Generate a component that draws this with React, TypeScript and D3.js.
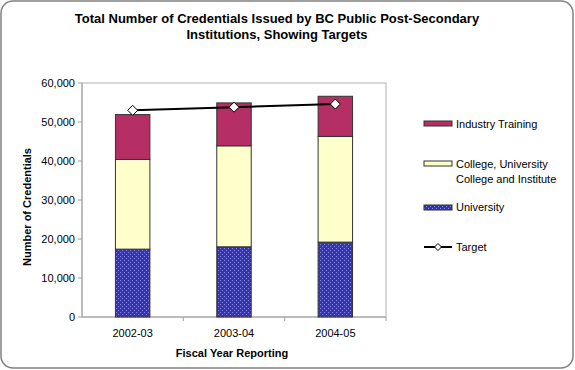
import React from "react";
import * as d3 from "d3";

const categories = ["2002-03", "2003-04", "2004-05"];
const university = [17400, 18000, 19200];
const college = [23000, 25900, 27100];
const industry = [11500, 11000, 10300];
const target = [53000, 53800, 54600];
const yTicks = [0, 10000, 20000, 30000, 40000, 50000, 60000];

const W = 575, H = 370;
const M = { left: 82, top: 83, right: 386, bottom: 317 };

export default function App() {
  const x = d3.scaleBand<string>().domain(categories).range([M.left, M.right]).paddingInner(0.66).paddingOuter(0.33);
  const y = d3.scaleLinear().domain([0, 60000]).range([M.bottom, M.top]);
  const fmt = d3.format(",");
  const series = [
    { key: "University", values: university, fill: "url(#dots)" },
    { key: "College", values: college, fill: "#FFFFCC" },
    { key: "Industry", values: industry, fill: "#B52F64" },
  ];
  const stacks = categories.map((c, i) => {
    let base = 0;
    return series.map((s) => {
      const y0 = base;
      base += s.values[i];
      return { cat: c, y0, y1: base, fill: s.fill, key: s.key };
    });
  });
  const line = d3.line<number>().x((_, i) => (x(categories[i]) as number) + x.bandwidth() / 2).y((d) => y(d));
  const step = x.step();
  const font = "'Liberation Sans', Arial, sans-serif";
  const diamond = (cx: number, cy: number, r = 5) => `M${cx},${cy - r}L${cx + r},${cy}L${cx},${cy + r}L${cx - r},${cy}Z`;

  return (
    <svg width={W} height={H} style={{ position: "absolute", left: 0, top: 0 }} fontFamily={font}>
      <defs>
        <pattern id="dots" width="4" height="4" patternUnits="userSpaceOnUse">
          <rect width="4" height="4" fill="#3434B4" />
          <rect x="0" y="0" width="1" height="1" fill="#8A8AE0" />
          <rect x="2" y="2" width="1" height="1" fill="#8A8AE0" />
        </pattern>
      </defs>
      <rect x={1} y={1} width={W - 3} height={H - 3} rx={12} fill="#fff" stroke="#808080" strokeWidth={1.5} />
      <text x={277} y={23} textAnchor="middle" fontSize={13} fontWeight="bold">Total Number of Credentials Issued by BC Public Post-Secondary</text>
      <text x={277} y={39} textAnchor="middle" fontSize={13} fontWeight="bold">Institutions, Showing Targets</text>

      <rect x={M.left} y={M.top} width={M.right - M.left} height={M.bottom - M.top} fill="#fff" stroke="#B0B0B0" strokeWidth={1} />
      {yTicks.map((t) => (
        <g key={t}>
          <line x1={M.left - 4} x2={M.left} y1={y(t)} y2={y(t)} stroke="#A0A0A0" />
          <text x={75} y={y(t) + 4} textAnchor="end" fontSize={11}>{fmt(t)}</text>
        </g>
      ))}
      {categories.map((c, i) => (
        <g key={c}>
          <line x1={M.left + step * (i + 1)} x2={M.left + step * (i + 1)} y1={M.bottom} y2={M.bottom + 4} stroke="#A0A0A0" />
          <text x={(x(c) as number) + x.bandwidth() / 2} y={337} textAnchor="middle" fontSize={11}>{c}</text>
        </g>
      ))}
      <line x1={M.left} x2={M.left} y1={M.top} y2={M.bottom} stroke="#A0A0A0" />
      <line x1={M.left} x2={M.right} y1={M.bottom} y2={M.bottom} stroke="#A0A0A0" />

      {stacks.map((st) =>
        st.map((s) => (
          <rect key={s.cat + s.key} x={x(s.cat)} y={y(s.y1)} width={x.bandwidth()} height={y(s.y0) - y(s.y1)} fill={s.fill} stroke="#333" strokeWidth={1} />
        ))
      )}
      <path d={line(target) || ""} fill="none" stroke="#000" strokeWidth={2} />
      {target.map((t, i) => (
        <path key={i} d={diamond((x(categories[i]) as number) + x.bandwidth() / 2, y(t))} fill="#fff" stroke="#000" strokeWidth={1} />
      ))}

      <text transform={`translate(31,207) rotate(-90)`} textAnchor="middle" fontSize={11} fontWeight="bold">Number of Credentials</text>
      <text x={232} y={357} textAnchor="middle" fontSize={11} fontWeight="bold">Fiscal Year Reporting</text>

      <rect x={424} y={121} width={28} height={5} fill="#B52F64" stroke="#333" />
      <text x={456} y={128} fontSize={11}>Industry Training</text>
      <rect x={424} y={161} width={28} height={5} fill="#FFFFCC" stroke="#333" />
      <text x={456} y={168} fontSize={11}>College, University</text>
      <text x={456} y={183} fontSize={11}>College and Institute</text>
      <rect x={424} y={205} width={28} height={5} fill="url(#dots)" stroke="#333" />
      <text x={456} y={211} fontSize={11}>University</text>
      <line x1={424} x2={452} y1={247} y2={247} stroke="#000" strokeWidth={2} />
      <path d={diamond(438, 247, 3.5)} fill="#fff" stroke="#000" />
      <text x={456} y={251} fontSize={11}>Target</text>
    </svg>
  );
}
